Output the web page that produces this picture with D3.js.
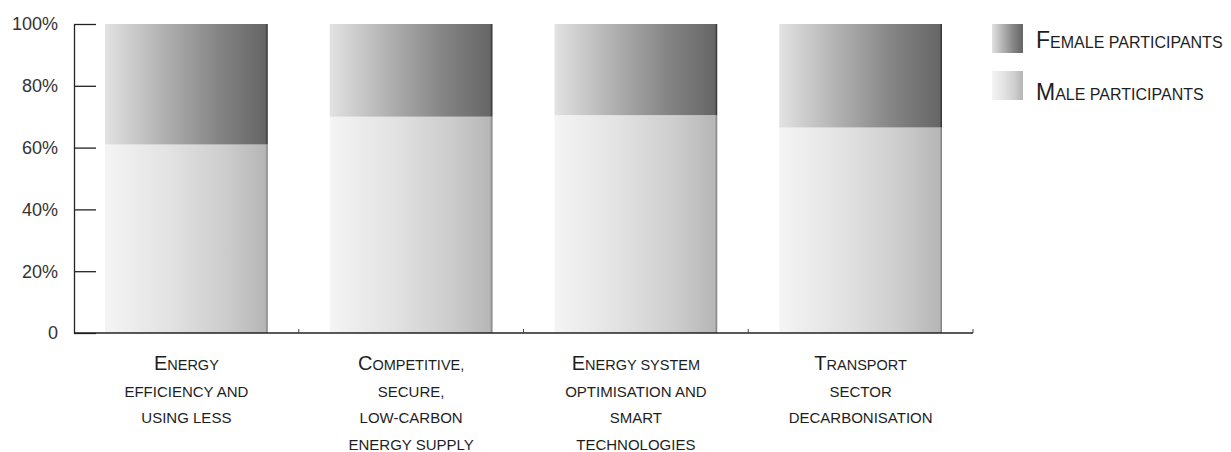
<!DOCTYPE html>
<html>
<head>
<meta charset="utf-8">
<script src="https://cdn.jsdelivr.net/npm/d3@7"></script>
<style>
  body { margin: 0; background: #fff; }
  text { font-family: "Liberation Sans", Arial, sans-serif; fill: #1e1e1e; }
</style>
</head>
<body>
<svg></svg>
<script>
// categories, shown as small caps; each entry is the list of label lines
let categories = ["Energy efficiency", "Competitive supply", "Energy system", "Transport"];
let categoryLines = [
    ["Energy", "efficiency and", "using less"],
    ["Competitive,", "secure,", "low-carbon", "energy supply"],
    ["Energy system", "optimisation and", "smart", "technologies"],
    ["Transport", "sector", "decarbonisation"]
];
let maleShare = [61, 70, 70.5, 66.5];
let femaleShare = [39, 30, 29.5, 33.5];
let seriesNames = ["Female participants", "Male participants"];
let yTicks = [0, 20, 40, 60, 80, 100];
let yTickLabels = ["0", "20%", "40%", "60%", "80%", "100%"];

window.addEventListener('load', e => {
    let width = 1231;
    let height = 452;
    let left = 74, right = 973, top = 24, bottom = 333;

    let svg = d3.select("svg")
        .attr("width", width)
        .attr("height", height);

    // gradients: light on the left, dark on the right
    let defs = svg.append("defs");
    let gradients = {
        female: [[0, "#e2e2e2"], [0.35, "#b2b2b2"], [0.7, "#848484"], [0.985, "#666"], [1, "#2a2a2a"]],
        male: [[0, "#f4f4f4"], [0.4, "#e2e2e2"], [0.75, "#cccccc"], [0.985, "#b6b6b6"], [1, "#777"]]
    };
    Object.keys(gradients).forEach(k => {
        let g = defs.append("linearGradient")
            .attr("id", "grad-" + k)
            .attr("x1", 0).attr("x2", 1).attr("y1", 0).attr("y2", 0);
        g.selectAll("stop")
            .data(gradients[k])
            .enter()
            .append("stop")
              .attr("offset", d => d[0])
              .attr("stop-color", d => d[1]);
    });

    let xScale = d3.scaleBand()
        .domain(categories)
        .range([left, right])
        .paddingInner(0.276)
        .paddingOuter(0.138);

    let yScale = d3.scaleLinear()
        .domain([0, 100])
        .range([bottom, top]);

    let rows = categories.map((c, i) => ({ cat: c, male: maleShare[i], female: femaleShare[i] }));

    // male part (bottom)
    svg.append("g")
      .selectAll("rect")
      .data(rows)
      .enter()
      .append("rect")
        .attr("x", d => xScale(d.cat))
        .attr("y", d => yScale(d.male))
        .attr("width", xScale.bandwidth())
        .attr("height", d => yScale(0) - yScale(d.male))
        .attr("fill", "url(#grad-male)");

    // female part (top)
    svg.append("g")
      .selectAll("rect")
      .data(rows)
      .enter()
      .append("rect")
        .attr("x", d => xScale(d.cat))
        .attr("y", d => yScale(d.male + d.female))
        .attr("width", xScale.bandwidth())
        .attr("height", d => yScale(d.male) - yScale(d.male + d.female))
        .attr("fill", "url(#grad-female)");

    // y axis, ticks pointing inwards
    let yAxis = d3.axisRight(yScale)
        .tickValues(yTicks)
        .tickSize(22)
        .tickSizeOuter(0)
        .tickFormat((d, i) => "");

    let yg = svg.append("g")
        .attr("transform", "translate(" + left + ",0)")
        .call(yAxis);
    yg.select(".domain").attr("stroke", "#222").attr("stroke-width", 1.3);
    yg.selectAll(".tick line").attr("stroke", "#222").attr("stroke-width", 1.3);

    svg.append("g")
      .selectAll("text")
      .data(yTicks)
      .enter()
      .append("text")
        .attr("x", 58)
        .attr("y", d => yScale(d))
        .attr("dy", "0.36em")
        .style("text-anchor", "end")
        .style("font-size", "18px")
        .style("fill", "#333")
        .text((d, i) => yTickLabels[i]);

    // x axis with small ticks between the categories
    let boundaries = categories.map(c => xScale(c) + xScale.bandwidth() + xScale.step() * xScale.paddingOuter());
    svg.append("line")
        .attr("x1", left).attr("x2", right)
        .attr("y1", bottom).attr("y2", bottom)
        .attr("stroke", "#222")
        .attr("stroke-width", 1.3);
    svg.append("g")
      .selectAll("line")
      .data(boundaries)
      .enter()
      .append("line")
        .attr("x1", d => d).attr("x2", d => d)
        .attr("y1", bottom).attr("y2", bottom - 4)
        .attr("stroke", "#444")
        .attr("stroke-width", 1);

    // category labels: first letter large, the rest in capitals
    let labels = svg.append("g")
      .selectAll("text")
      .data(rows)
      .enter()
      .append("g");
    labels.each(function (d, i) {
        let cx = xScale(d.cat) + xScale.bandwidth() / 2;
        let lines = categoryLines[i];
        lines.forEach((line, j) => {
            let t = d3.select(this).append("text")
                .attr("x", cx)
                .attr("y", 370 + j * 26.5)
                .style("text-anchor", "middle");
            if (j === 0) {
                t.append("tspan").style("font-size", "20px").text(line[0]);
                t.append("tspan").style("font-size", "14.5px").text(line.slice(1).toUpperCase());
            } else {
                t.append("tspan").style("font-size", "15px").text(line.toUpperCase());
            }
        });
    });

    // legend
    let legend = svg.append("g")
      .selectAll("g")
      .data(seriesNames)
      .enter()
      .append("g")
        .attr("transform", (d, i) => "translate(992," + (24 + i * 47) + ")");
    legend.append("rect")
        .attr("width", 31)
        .attr("height", 29)
        .attr("fill", (d, i) => i === 0 ? "url(#grad-female)" : "url(#grad-male)");
    let legendText = legend.append("text")
        .attr("x", 44)
        .attr("y", (d, i) => i === 0 ? 24 : 29);
    legendText.append("tspan")
        .style("font-size", "23px")
        .text(d => d[0]);
    legendText.append("tspan")
        .style("font-size", "16px")
        .text(d => d.slice(1).toUpperCase());
});
</script>
</body>
</html>
